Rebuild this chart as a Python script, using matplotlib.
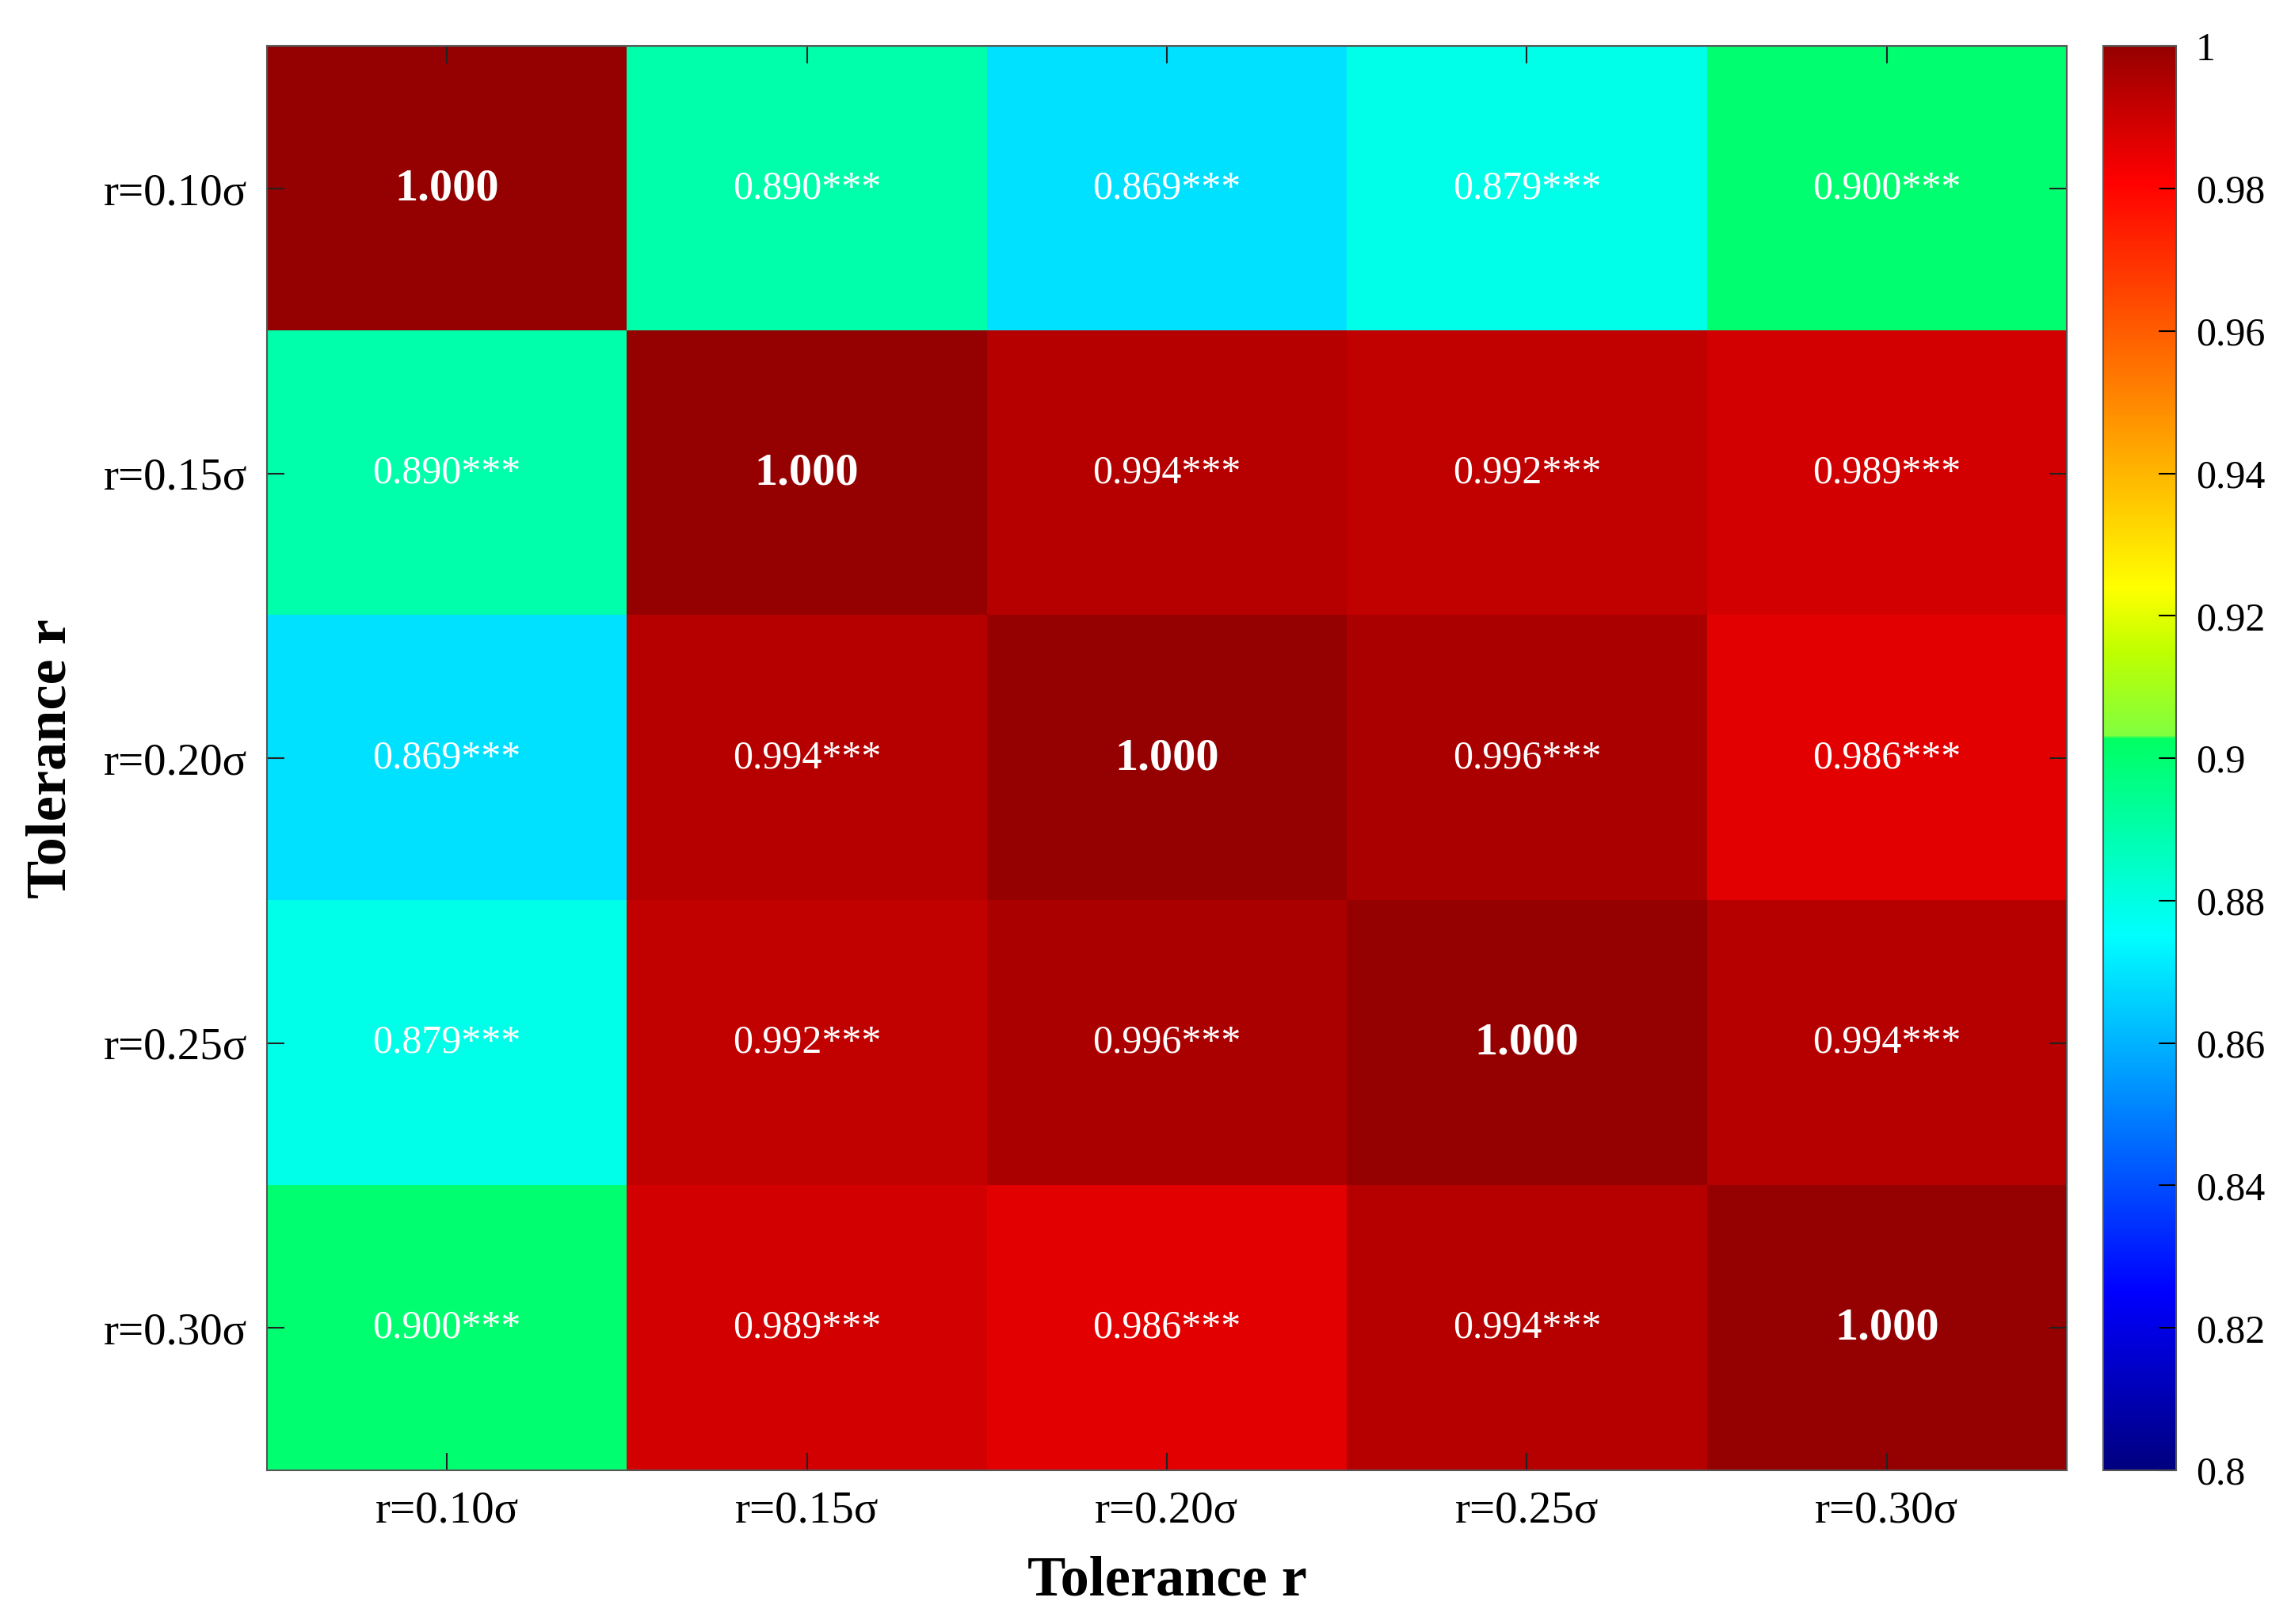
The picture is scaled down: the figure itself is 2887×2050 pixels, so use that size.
import numpy as np
import matplotlib
matplotlib.use("Agg")
import matplotlib.pyplot as plt
from matplotlib.colors import LinearSegmentedColormap

plt.rcParams['font.family'] = ['Liberation Serif', 'DejaVu Serif']

# tolerance labels and the correlation matrix
labels = ['r=0.10σ', 'r=0.15σ', 'r=0.20σ', 'r=0.25σ', 'r=0.30σ']
corr = np.array([
    [1.000, 0.890, 0.869, 0.879, 0.900],
    [0.890, 1.000, 0.994, 0.992, 0.989],
    [0.869, 0.994, 1.000, 0.996, 0.986],
    [0.879, 0.992, 0.996, 1.000, 0.994],
    [0.900, 0.989, 0.986, 0.994, 1.000],
])
stars = '***'
vmin, vmax = 0.8, 1.0

# jet-like map with a jump just above 0.9
def f(v):
    return (v - vmin) / (vmax - vmin)

nodes = [
    (f(0.800), (0.0, 0.0, 0.5)),
    (f(0.825), (0.0, 0.0, 1.0)),
    (f(0.875), (0.0, 1.0, 1.0)),
    (f(0.9029), (0.0, 1.0, 0.38)),
    (f(0.9031), (0.5, 1.0, 0.25)),
    (f(0.915), (0.75, 1.0, 0.0)),
    (f(0.924), (1.0, 1.0, 0.0)),
    (f(0.952), (1.0, 0.5, 0.0)),
    (f(0.981), (1.0, 0.0, 0.0)),
    (f(1.000), (0.588, 0.0, 0.0)),
]
cmap = LinearSegmentedColormap.from_list('split_jet', nodes, N=1024)

fig = plt.figure(figsize=(28.87, 20.5), dpi=100)
ax = fig.add_axes([0.1167, 0.0946, 0.787, 0.877])
cax = fig.add_axes([0.9197, 0.0946, 0.0318, 0.877])

im = ax.imshow(corr, cmap=cmap, vmin=vmin, vmax=vmax, aspect='auto',
               interpolation='nearest')

n = len(labels)
for i in range(n):
    for j in range(n):
        v = corr[i, j]
        if i == j:
            ax.text(j, i, f'{v:.3f}', ha='center', va='center',
                    color='white', fontsize=42, fontweight='bold')
        else:
            ax.text(j, i, f'{v:.3f}{stars}', ha='center', va='center',
                    color='white', fontsize=36)

ax.set_xticks(range(n))
ax.set_yticks(range(n))
ax.set_xticklabels(labels, fontsize=41)
ax.set_yticklabels(labels, fontsize=41)
ax.tick_params(direction='in', length=16, width=1.5, color='#222222',
               top=True, right=True, pad=18)
for s in ax.spines.values():
    s.set_color('#555555')
    s.set_linewidth(1.5)

ax.set_xlabel('Tolerance r', fontsize=52, fontweight='bold', labelpad=22)
ax.set_ylabel('Tolerance r', fontsize=52, fontweight='bold', labelpad=24)

cb = fig.colorbar(im, cax=cax, ticks=np.arange(0.8, 1.0001, 0.02))
cb.ax.yaxis.set_major_formatter(matplotlib.ticker.FuncFormatter(lambda x, p: f'{x:g}'))
cb.ax.tick_params(direction='in', length=16, width=1.5, labelsize=36, pad=18)
cb.outline.set_edgecolor('#555555')
cb.outline.set_linewidth(1.5)

fig.savefig('out.png', dpi=100)
